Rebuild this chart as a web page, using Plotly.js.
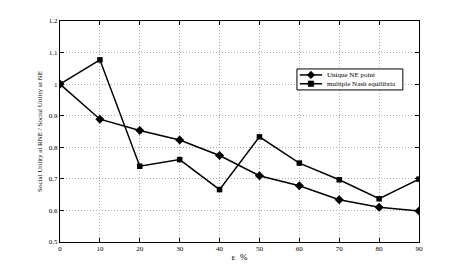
<!DOCTYPE html>
<html><head><meta charset="utf-8">
<script src="https://cdn.plot.ly/plotly-3.0.1.min.js"></script>
<style>html,body{margin:0;padding:0;background:#fff}#chart{width:463px;height:273px}</style>
</head><body><div id="chart"></div>
<script>
const eps = [0, 10, 20, 30, 40, 50, 60, 70, 80, 90];
const uniqueNE = [1.0, 0.889, 0.853, 0.823, 0.774, 0.71, 0.678, 0.634, 0.61, 0.598];
const multipleNE = [1.0, 1.077, 0.74, 0.761, 0.666, 0.833, 0.75, 0.697, 0.637, 0.699];
const seriesNames = ["Unique NE point", "multiple Nash equilibria"];
const yTickVals = [0.5, 0.6, 0.7, 0.8, 0.9, 1.0, 1.1, 1.2];
const yTickText = ["0.5", "0.6", "0.7", "0.8", "0.9", "1", "1.1", "1.2"];
const xTickVals = [0, 10, 20, 30, 40, 50, 60, 70, 80, 90];

const font = {family: "Liberation Serif, Times New Roman, serif", color: "#000"};
const lineStyle = {color: "#000", width: 1.5};
const markers = [
  {symbol: "diamond", size: 7, color: "#000"},
  {symbol: "square", size: 5.5, color: "#000"}
];
const traces = [
  {x: eps, y: uniqueNE, name: seriesNames[0], mode: "lines+markers", line: lineStyle, marker: markers[0], showlegend: false},
  {x: eps, y: multipleNE, name: seriesNames[1], mode: "lines+markers", line: lineStyle, marker: markers[1], showlegend: false}
];
// compact legend drawn with shapes (above grid) and annotations
const leg = {x0: 0.660, x1: 0.955, y0: 0.688, y1: 0.783, lx0: 0.668, lx1: 0.730, mx: 0.699, tx: 0.742, rows: [0.756, 0.716]};
const glyphPaths = ["M0,3.8 L3.8,0 L0,-3.8 L-3.8,0 Z", "M-2.8,-2.8 L2.8,-2.8 L2.8,2.8 L-2.8,2.8 Z"];
const shapes = [
  {type: "rect", xref: "paper", yref: "paper", x0: leg.x0, x1: leg.x1, y0: leg.y0, y1: leg.y1,
   line: {color: "#000", width: 1}, fillcolor: "#fff", layer: "above"}
];
const annotations = [];
seriesNames.forEach((n, i) => {
  shapes.push({type: "line", xref: "paper", yref: "paper", x0: leg.lx0, x1: leg.lx1, y0: leg.rows[i], y1: leg.rows[i],
    line: lineStyle, layer: "above"});
  shapes.push({type: "path", xref: "paper", yref: "paper", xsizemode: "pixel", ysizemode: "pixel",
    xanchor: leg.mx, yanchor: leg.rows[i], path: glyphPaths[i],
    line: {color: "#000", width: 0.5}, fillcolor: "#000", layer: "above"});
  annotations.push({xref: "paper", yref: "paper", x: leg.tx, y: leg.rows[i], xanchor: "left", yanchor: "middle",
    text: n, showarrow: false, borderpad: 0, font: Object.assign({size: 7}, font)});
});

const axisCommon = {
  showline: true, mirror: "ticks", linecolor: "#000", linewidth: 1,
  ticks: "inside", ticklen: 4, tickcolor: "#000",
  showgrid: true, gridcolor: "#aaa", griddash: "1px,2px", gridwidth: 1,
  zeroline: false, tickfont: Object.assign({size: 7}, font)
};
const layout = {
  width: 463, height: 273,
  margin: {l: 60, r: 44, t: 21, b: 31},
  paper_bgcolor: "#fff", plot_bgcolor: "#fff",
  showlegend: false, shapes: shapes, annotations: annotations,
  xaxis: Object.assign({}, axisCommon, {range: [0, 90], tickvals: xTickVals,
    title: {text: "ε  %", font: Object.assign({size: 9}, font), standoff: 1}}),
  yaxis: Object.assign({}, axisCommon, {range: [0.5, 1.2], tickvals: yTickVals, ticktext: yTickText,
    title: {text: "Social Utility at RNE / Social Utility at NE", font: Object.assign({size: 7}, font), standoff: 5}})
};
Plotly.newPlot("chart", traces, layout, {displayModeBar: false, staticPlot: true});
</script></body></html>
